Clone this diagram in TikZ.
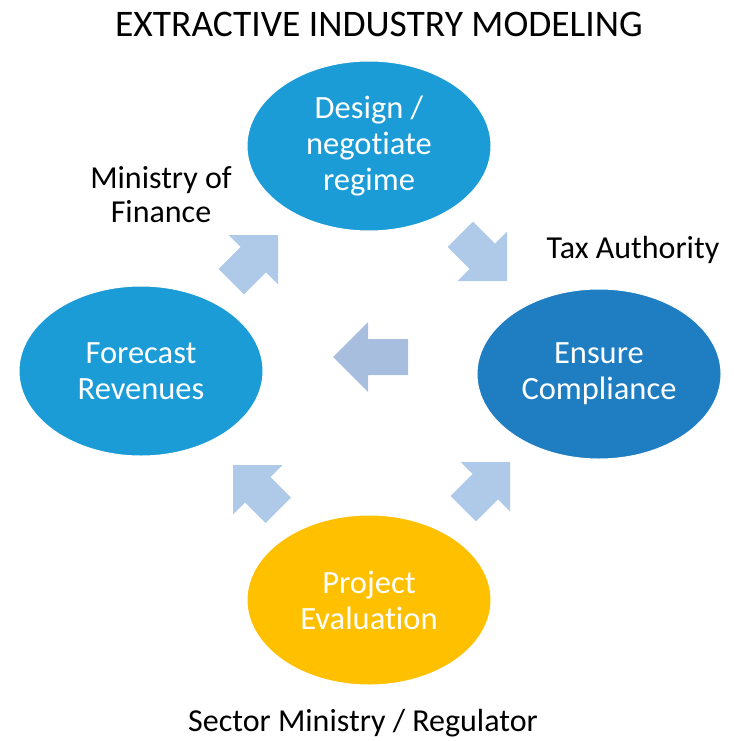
\documentclass[tikz,border=0pt]{standalone}
\usepackage{fontspec}
\setmainfont{Carlito}[Ligatures={NoCommon}]
\usetikzlibrary{shapes.geometric}
\definecolor{lblue}{RGB}{27,156,215}
\definecolor{dblue}{RGB}{31,126,194}
\definecolor{gold}{RGB}{255,192,0}
\definecolor{arrdiag}{RGB}{174,202,232}
\definecolor{arrmid}{RGB}{168,190,222}
\tikzset{
  bubble/.style={ellipse, draw=white, line width=1pt, minimum width=244pt, minimum height=170pt, inner sep=0pt, align=center, text=white, font=\fontsize{32.5}{36}\selectfont},
  lbl/.style={align=center, text=black, font=\fontsize{32}{34}\selectfont, inner sep=0pt},
  pics/blockarrow/.style 2 args={code={
    \fill[#1] (0,0) -- (-35,-35) -- (-35,-18) -- (-#2,-18) -- (-#2,18) -- (-35,18) -- (-35,35) -- cycle;}}
}
\begin{document}
\begin{tikzpicture}[x=1pt,y=-1pt]
\useasboundingbox (0,0) rectangle (733,741);
\node[font=\fontsize{37.5}{40}\selectfont, anchor=base] (title) at (379,37) {EXTRACTIVE INDUSTRY MODELING};
\node[bubble, fill=lblue] (design) at (369,146) {Design /\\negotiate\\regime};
\node[bubble, fill=lblue] (forecast) at (141,371) {Forecast\\Revenues};
\node[bubble, fill=dblue] (comply) at (599,374) {Ensure\\Compliance};
\node[bubble, fill=gold] (project) at (369,600) {Project\\Evaluation};
\node[lbl, anchor=base] (mof1) at (161,188) {Ministry of};
\node[lbl, anchor=base] (mof2) at (161,222) {Finance};
\node[lbl, anchor=base] (tax) at (633,258) {Tax Authority};
\node[lbl, anchor=base] (sector) at (363,731) {Sector Ministry / Regulator};
\pic[rotate=45] at (278,235) {blockarrow={arrdiag}{66}};
\pic[rotate=-45] at (507,281) {blockarrow={arrdiag}{66}};
\pic[rotate=180] at (333,357) {blockarrow={arrmid}{75}};
\pic[rotate=135] at (233,465) {blockarrow={arrdiag}{64}};
\pic[rotate=45] at (510,462) {blockarrow={arrdiag}{66}};
\end{tikzpicture}
\end{document}
